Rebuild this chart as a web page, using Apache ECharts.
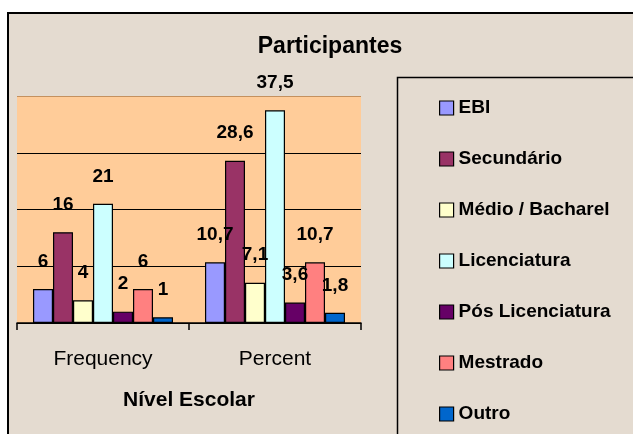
<!DOCTYPE html>
<html>
<head>
<meta charset="utf-8">
<script src="https://cdn.jsdelivr.net/npm/echarts@6/dist/echarts.min.js"></script>
<style>
html,body{margin:0;padding:0;background:#fff;}
#c{width:633px;height:434px;}
</style>
</head>
<body>
<div id="c"></div>
<script>
const categories = ['Frequency', 'Percent'];
const seriesNames = ['EBI', 'Secundário', 'Médio / Bacharel', 'Licenciatura', 'Pós Licenciatura', 'Mestrado', 'Outro'];
const ebi = [6, 10.7];
const secundario = [16, 28.6];
const medio = [4, 7.1];
const licenciatura = [21, 37.5];
const posLicenciatura = [2, 3.6];
const mestrado = [6, 10.7];
const outro = [1, 1.8];
const seriesValues = [ebi, secundario, medio, licenciatura, posLicenciatura, mestrado, outro];
const colors = ['#9999FF', '#993366', '#FFFFCC', '#CCFFFF', '#660066', '#FF8080', '#0066CC'];

const narrow = '"Liberation Sans Narrow", "Arial Narrow", "Liberation Sans", Arial, sans-serif';
const arial = '"Liberation Sans", Arial, sans-serif';

const chart = echarts.init(document.getElementById('c'), null, {renderer: 'canvas'});
chart.setOption({
  backgroundColor: '#ffffff',
  animation: false,
  color: colors,
  title: {
    text: 'Participantes',
    left: 325, top: 30, textAlign: 'center',
    textStyle: {fontFamily: arial, fontWeight: 'bold', fontSize: 23, color: '#000'}
  },
  graphic: [
    {type: 'rect', z: -10, shape: {x: 8, y: 13, width: 700, height: 500},
     style: {fill: '#E4DBD0', stroke: '#000', lineWidth: 2}},
    {type: 'rect', z: 10, shape: {x: 397.5, y: 77.5, width: 400, height: 500},
     style: {fill: 'none', stroke: '#000', lineWidth: 1.5}}
  ],
  legend: {
    orient: 'vertical',
    left: 439, top: 96,
    padding: 0,
    itemWidth: 14, itemHeight: 14,
    itemGap: 27,
    icon: 'rect',
    itemStyle: {borderColor: '#000', borderWidth: 1.2},
    textStyle: {fontFamily: narrow, fontWeight: 'bold', fontSize: 19, color: '#000', lineHeight: 24},
    data: seriesNames
  },
  grid: {
    left: 17, right: 272, top: 96, bottom: 111,
    show: true, backgroundColor: '#FFCC99', borderWidth: 0
  },
  xAxis: {
    type: 'category',
    data: categories,
    name: 'Nível Escolar',
    nameLocation: 'middle',
    nameGap: 67,
    nameTextStyle: {fontFamily: arial, fontWeight: 'bold', fontSize: 21, color: '#000'},
    axisLine: {lineStyle: {color: '#000', width: 1.5}},
    axisTick: {show: true, length: 7, lineStyle: {color: '#000', width: 1.5}},
    axisLabel: {margin: 26, fontFamily: arial, fontSize: 21, color: '#000'}
  },
  yAxis: {
    type: 'value', min: 0, max: 40, interval: 10,
    axisLine: {show: false}, axisTick: {show: false}, axisLabel: {show: false},
    splitLine: {show: true, lineStyle: {color: ['#000', '#000', '#000', '#000', '#C4915F'], width: 1.2}}
  },
  series: seriesNames.map((name, i) => ({
    name: name,
    type: 'bar',
    data: seriesValues[i],
    barGap: '0%',
    barCategoryGap: '18.6%',
    itemStyle: {color: colors[i], borderColor: '#000', borderWidth: 1.2},
    label: {
      show: true, position: 'top', distance: 18,
      fontFamily: narrow, fontWeight: 'bold', fontSize: 19, color: '#000',
      formatter: p => String(p.value).replace('.', ',')
    }
  }))
});
</script>
</body>
</html>
